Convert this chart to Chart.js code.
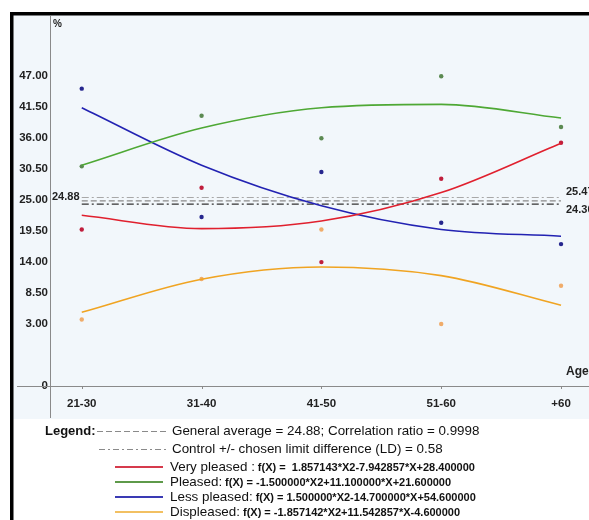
<!DOCTYPE html>
<html>
<head>
<meta charset="utf-8">
<title>Satisfaction by age</title>
<script src="https://cdn.jsdelivr.net/npm/chart.js@4.4.1/dist/chart.umd.min.js"></script>
<style>
    body { margin: 0; background: #ffffff; }
    #wrap { position: relative; width: 589px; height: 520px; }
</style>
</head>
<body>
<div id="wrap"><canvas id="chartAgeFit"></canvas></div>
<script>
/* Satisfaction by age group - quadratic fits over measured points */

const ageGroups = ['21-30', '31-40', '41-50', '51-60', '+60'];
const yTickValues = [3, 8.5, 14, 19.5, 25, 30.5, 36, 41.5, 47];

// measured points (%)
const veryPleased = [19.8, 27.2, 14.0, 28.8, 35.2];
const pleased = [31.0, 40.0, 36.0, 47.0, 38.0];
const lessPleased = [44.8, 22.0, 30.0, 21.0, 17.2];
const displeased = [3.8, 11.0, 19.8, 3.0, 9.8];

// fitted curve read at each age group
const veryPleasedFit = [22.31, 19.94, 21.29, 26.34, 35.11];
const pleasedFit = [31.2, 37.8, 41.4, 42.0, 39.6];
const lessPleasedFit = [41.4, 31.2, 24.0, 19.8, 18.6];
const displeasedFit = [5.09, 10.97, 13.14, 11.6, 6.34];

const generalAverage = 24.88;
const upperLimit = 25.47;
const lowerLimit = 24.30;

const Y_MIN = -8;
const FONT = "'Liberation Sans', Arial, sans-serif";

const series = [
    { name: 'Very pleased :', formula: 'f(X) =  1.857143*X2-7.942857*X+28.400000', points: veryPleased, fit: veryPleasedFit, line: '#e0202e', dot: '#c01e3c', key: '#d63a4c' },
    { name: 'Pleased:', formula: 'f(X) = -1.500000*X2+11.100000*X+21.600000', points: pleased, fit: pleasedFit, line: '#4ea834', dot: '#5c8a52', key: '#5e9a4a' },
    { name: 'Less pleased:', formula: 'f(X) = 1.500000*X2-14.700000*X+54.600000', points: lessPleased, fit: lessPleasedFit, line: '#2222b2', dot: '#26268e', key: '#3a3ab4' },
    { name: 'Displeased:', formula: 'f(X) = -1.857142*X2+11.542857*X-4.600000', points: displeased, fit: displeasedFit, line: '#f0a422', dot: '#f0ac6a', key: '#f2c062' }
];

const toXY = arr => arr.map((v, i) => ({ x: i, y: v }));
const flat = v => ageGroups.map((_, i) => ({ x: i, y: v }));

const datasets = [];
series.forEach(s => {
    datasets.push({
        label: s.name,
        data: toXY(s.fit),
        borderColor: s.line,
        borderWidth: 1.6,
        pointRadius: 0,
        cubicInterpolationMode: 'monotone',
        fill: false
    });
    datasets.push({
        label: s.name + ' points',
        data: toXY(s.points),
        showLine: false,
        pointRadius: 2.2,
        pointBackgroundColor: s.dot,
        pointBorderWidth: 0
    });
});
datasets.push({ label: 'upper', data: flat(upperLimit), borderColor: '#a8a8a8', borderWidth: 1.2, borderDash: [7, 3, 2, 3], pointRadius: 0 });
datasets.push({ label: 'average', data: flat(generalAverage), borderColor: '#8a8a8a', borderWidth: 1.2, borderDash: [6, 3], pointRadius: 0 });
datasets.push({ label: 'lower', data: flat(lowerLimit), borderColor: '#333333', borderWidth: 1.2, borderDash: [7, 3, 2, 3], pointRadius: 0 });

// background panel, frame and broken axes
const framePlugin = {
    id: 'frame',
    beforeDraw(chart) {
        const { ctx, width, height } = chart;
        ctx.save();
        ctx.fillStyle = '#ffffff';
        ctx.fillRect(0, 0, width, height);
        ctx.fillStyle = '#f2f7fb';
        ctx.fillRect(13, 15, width - 13, 404);
        ctx.fillStyle = '#000000';
        ctx.fillRect(10, 12, 3.5, height - 12);
        ctx.fillRect(10, 12, width - 10, 3.5);
        ctx.restore();
    },
    beforeDatasetsDraw(chart) {
        const { ctx, chartArea } = chart;
        const x = chart.scales.x;
        ctx.save();
        ctx.strokeStyle = '#8a8a8a';
        ctx.lineWidth = 1;
        ctx.beginPath();
        ctx.moveTo(chartArea.left + 0.5, 16);
        ctx.lineTo(chartArea.left + 0.5, 418);
        ctx.moveTo(17, chartArea.bottom + 0.5);
        ctx.lineTo(chart.width, chartArea.bottom + 0.5);
        ageGroups.forEach((_, i) => {
            const px = Math.round(x.getPixelForValue(i)) + 0.5;
            ctx.moveTo(px, chartArea.bottom);
            ctx.lineTo(px, chartArea.bottom + 3);
        });
        ctx.stroke();
        ctx.restore();
    }
};

// axis captions, limit values and legend block
const labelsPlugin = {
    id: 'labels',
    afterDraw(chart) {
        const { ctx, chartArea } = chart;
        const y = chart.scales.y;
        ctx.save();
        ctx.fillStyle = '#222';
        ctx.textBaseline = 'middle';
        ctx.textAlign = 'left';
        ctx.font = 'bold 10px ' + FONT;
        ctx.fillText('%', chartArea.left + 3, 24);
        ctx.font = 'bold 12px ' + FONT;
        ctx.fillText('Age', 566, chartArea.bottom - 14);
        ctx.font = 'bold 11px ' + FONT;
        ctx.fillText(generalAverage.toFixed(2), chartArea.left + 2, y.getPixelForValue(generalAverage) - 4);
        ctx.fillText(upperLimit.toFixed(2), 566, y.getPixelForValue(upperLimit) - 6);
        ctx.fillText(lowerLimit.toFixed(2), 566, y.getPixelForValue(lowerLimit) + 6);

        // legend
        ctx.fillStyle = '#111';
        ctx.font = 'bold 13px ' + FONT;
        ctx.fillText('Legend:', 45, 431);
        ctx.font = '13.4px ' + FONT;
        ctx.fillText('General average = ' + generalAverage + '; Correlation ratio = 0.9998', 172, 431);
        ctx.fillText('Control +/- chosen limit difference (LD) = 0.58', 172, 449);

        ctx.lineWidth = 1;
        ctx.strokeStyle = '#8a8a8a';
        ctx.setLineDash([6, 3]);
        ctx.beginPath(); ctx.moveTo(97, 431.5); ctx.lineTo(168, 431.5); ctx.stroke();
        ctx.setLineDash([6, 3, 2, 3]);
        ctx.beginPath(); ctx.moveTo(99, 449.5); ctx.lineTo(168, 449.5); ctx.stroke();
        ctx.setLineDash([]);

        const rows = [467, 482, 497, 512];
        series.forEach((s, i) => {
            const ry = rows[i];
            ctx.strokeStyle = s.key;
            ctx.lineWidth = 2;
            ctx.beginPath(); ctx.moveTo(115, ry); ctx.lineTo(163, ry); ctx.stroke();
            ctx.fillStyle = '#111';
            ctx.font = '13.4px ' + FONT;
            ctx.fillText(s.name, 170, ry);
            const w = ctx.measureText(s.name).width;
            ctx.font = 'bold 11px ' + FONT;
            ctx.fillText(s.formula, 170 + w + 3, ry + 1);
        });
        ctx.restore();
    }
};

new Chart(document.getElementById('chartAgeFit').getContext('2d'), {
    type: 'line',
    data: { datasets },
    options: {
        responsive: true,
        maintainAspectRatio: false,
        animation: false,
        layout: { padding: { top: 16, left: 0, right: 0, bottom: 0 } },
        plugins: { legend: { display: false }, tooltip: { enabled: false } },
        scales: {
            x: {
                type: 'linear',
                min: -0.265,
                max: 4.2,
                afterBuildTicks: s => { s.ticks = ageGroups.map((_, i) => ({ value: i })); },
                afterFit: s => { s.height = 134; },
                grid: { display: false, drawTicks: false },
                border: { display: false },
                ticks: {
                    padding: 11,
                    color: '#222',
                    font: { family: FONT, size: 11.5, weight: 'bold' },
                    callback: v => ageGroups[v]
                }
            },
            y: {
                min: Y_MIN,
                max: 57.7,
                afterBuildTicks: s => { s.ticks = [Y_MIN].concat(yTickValues).map(v => ({ value: v })); },
                afterFit: s => { s.width = 50; },
                grid: { display: false, drawTicks: false },
                border: { display: false },
                ticks: {
                    padding: 2,
                    color: '#222',
                    font: { family: FONT, size: 11.5, weight: 'bold' },
                    callback: v => v === Y_MIN ? '0' : v.toFixed(2)
                }
            }
        }
    },
    plugins: [framePlugin, labelsPlugin]
});
</script>
</body>
</html>
